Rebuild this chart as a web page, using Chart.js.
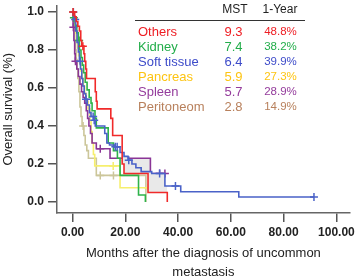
<!DOCTYPE html>
<html>
<head>
<meta charset="utf-8">
<script src="https://cdn.jsdelivr.net/npm/chart.js@4"></script>
<style>
html, body { margin: 0; padding: 0; background: #fff; }
</style>
</head>
<body>
<canvas id="myChart" width="358" height="277"></canvas>
<script>
// table on the right
var groupNames = ['Others', 'Kidney', 'Soft tissue', 'Pancreas', 'Spleen', 'Peritoneom'];
var mstValues = ['9.3', '7.4', '6.4', '5.9', '5.7', '2.8'];
var oneYearValues = ['48.8%', '38.2%', '39.9%', '27.3%', '28.9%', '14.9%'];
var textColors = ['#ee1d23', '#22ad4a', '#3d4bc9', '#fdc412', '#943c9c', '#b8805c'];
var lineColors = ['#f02a2a', '#2eb34a', '#4a62c8', '#f6ef6e', '#8a3596', '#ccc69a'];

// Kaplan-Meier steps (months, survival after the drop)
var othersMonths = [0.8, 1.4, 2.0, 2.6, 3.1, 3.5, 4.3, 4.6, 5.0, 5.3, 8.6, 9.0, 9.3, 14.5, 15.2, 18.8, 19.5, 28.6, 35.9];
var othersSurv = [0.975, 0.95, 0.925, 0.90, 0.85, 0.82, 0.78, 0.74, 0.70, 0.65, 0.58, 0.53, 0.49, 0.44, 0.35, 0.20, 0.15, 0.05, 0];
var othersCensored = [0.2, 3.9];

var kidneyMonths = [0.3, 1.0, 1.6, 2.2, 2.6, 3.2, 3.7, 4.2, 4.8, 5.5, 6.3, 7.0, 7.4, 8.5, 9.0, 13.5, 15.5, 17.0, 18.0, 25.0, 27.6];
var kidneySurv = [0.97, 0.93, 0.89, 0.85, 0.80, 0.76, 0.72, 0.68, 0.63, 0.59, 0.55, 0.52, 0.48, 0.44, 0.39, 0.31, 0.27, 0.23, 0.14, 0.037, 0];
var kidneyCensored = [0.5, 2.5];

var softMonths = [0.5, 1.2, 1.7, 2.2, 2.6, 3.0, 3.5, 3.9, 4.4, 5.0, 5.6, 6.4, 7.0, 8.0, 8.6, 12.2, 13.0, 14.0, 16.0, 18.0, 19.5, 21.0, 22.5, 24.0, 26.0, 30.0, 35.0, 41.0, 63.0];
var softSurv = [0.96, 0.90, 0.84, 0.79, 0.74, 0.70, 0.65, 0.61, 0.57, 0.54, 0.51, 0.47, 0.45, 0.43, 0.40, 0.36, 0.31, 0.30, 0.29, 0.26, 0.24, 0.22, 0.20, 0.18, 0.16, 0.15, 0.084, 0.054, 0.026];
var softCensored = [0.3, 1.0, 2.9, 5.1, 7.8, 8.2, 16.2, 16.9, 21.3, 33.0, 39.0, 91.5];

var pancreasMonths = [0.3, 0.7, 1.1, 1.5, 1.9, 2.3, 2.7, 3.1, 3.6, 4.1, 4.6, 5.2, 5.9, 6.6, 7.0, 7.4, 7.9, 8.4, 18.0];
var pancreasSurv = [0.96, 0.93, 0.89, 0.85, 0.81, 0.77, 0.73, 0.69, 0.65, 0.61, 0.57, 0.53, 0.49, 0.43, 0.37, 0.31, 0.25, 0.19, 0.075];
var pancreasCensored = [0.2, 15.4, 28.7];

var spleenMonths = [0.2, 0.5, 0.8, 1.0, 1.6, 2.2, 2.8, 3.4, 4.0, 4.6, 5.2, 5.7, 6.2, 6.8, 7.4, 9.0, 14.2, 29.5];
var spleenSurv = [0.92, 0.85, 0.78, 0.74, 0.70, 0.66, 0.62, 0.58, 0.55, 0.52, 0.48, 0.44, 0.40, 0.36, 0.31, 0.28, 0.23, 0.15];
var spleenCensored = [0.3, 1.1, 10.5, 33.0, 35.0];

var peritoneumMonths = [0.2, 0.5, 0.8, 1.1, 1.4, 1.7, 2.0, 2.4, 2.8, 3.2, 3.6, 4.3, 4.8, 5.4, 6.0, 9.0, 27.8];
var peritoneumSurv = [0.95, 0.90, 0.85, 0.80, 0.75, 0.70, 0.65, 0.58, 0.50, 0.45, 0.40, 0.35, 0.30, 0.27, 0.23, 0.14, 0];
var peritoneumCensored = [4.0, 10.5, 15.5];

var xTickValues = [0, 20, 40, 60, 80, 100];
var yTickValues = [0, 0.2, 0.4, 0.6, 0.8, 1.0];

function stepPoints(months, surv, censored) {
  var all = [];
  months.forEach(function(m, i) { all.push({x: m, s: surv[i], ev: true}); });
  censored.forEach(function(c) { all.push({x: c, ev: false}); });
  all.sort(function(a, b) { return a.x - b.x; });
  var pts = [{x: 0, y: 1}];
  var cur = 1;
  all.forEach(function(p) {
    if (p.ev) cur = p.s;
    pts.push({x: p.x, y: cur});
  });
  return pts;
}

function censorPoints(months, surv, censored) {
  return censored.map(function(c) {
    var s = 1;
    months.forEach(function(m, i) { if (m <= c) s = surv[i]; });
    return {x: c, y: s};
  });
}

var groups = [
  [othersMonths, othersSurv, othersCensored],
  [softMonths, softSurv, softCensored],
  [kidneyMonths, kidneySurv, kidneyCensored],
  [spleenMonths, spleenSurv, spleenCensored],
  [pancreasMonths, pancreasSurv, pancreasCensored],
  [peritoneumMonths, peritoneumSurv, peritoneumCensored]
];
var groupIdx = [0, 2, 1, 4, 3, 5];

var datasets = [];
groups.forEach(function(g, k) {
  var col = lineColors[groupIdx[k]];
  datasets.push({
    label: groupNames[groupIdx[k]] + ' censored',
    data: censorPoints(g[0], g[1], g[2]),
    showLine: false,
    pointStyle: 'cross',
    pointRadius: 4,
    pointBorderWidth: 1.5,
    borderColor: col,
    backgroundColor: col
  });
  datasets.push({
    label: groupNames[groupIdx[k]],
    data: stepPoints(g[0], g[1], g[2]),
    stepped: 'before',
    borderColor: col,
    borderWidth: 1.6,
    pointRadius: 0,
    fill: false
  });
});
// light grey where the spleen and soft tissue curves sit above "others"
datasets[7].fill = { target: 1, above: '#e9e9e9', below: 'rgba(0,0,0,0)' };
datasets[3].fill = { target: 1, above: '#e9e9e9', below: 'rgba(0,0,0,0)' };

var tablePlugin = {
  id: 'mstTable',
  afterDraw: function(chart) {
    var ctx = chart.ctx;
    ctx.save();
    ctx.textBaseline = 'middle';
    ctx.font = '12px "Liberation Sans", Arial, sans-serif';
    ctx.fillStyle = '#222';
    ctx.textAlign = 'center';
    ctx.fillText('MST', 235, 10);
    ctx.fillText('1-Year', 280, 10);
    ctx.strokeStyle = '#333';
    ctx.lineWidth = 1;
    ctx.beginPath();
    ctx.moveTo(135, 20.5);
    ctx.lineTo(305, 20.5);
    ctx.stroke();
    groupNames.forEach(function(name, i) {
      var y = 32 + i * 15;
      ctx.fillStyle = textColors[i];
      ctx.font = '13px "Liberation Sans", Arial, sans-serif';
      ctx.textAlign = 'left';
      ctx.fillText(name, 138, y);
      ctx.textAlign = 'center';
      ctx.fillText(mstValues[i], 233.5, y);
      ctx.font = '11.5px "Liberation Sans", Arial, sans-serif';
      ctx.fillText(oneYearValues[i], 280.5, y);
    });
    ctx.restore();
  }
};

var ctx = document.getElementById('myChart').getContext('2d');
var chart = new Chart(ctx, {
  type: 'line',
  data: { datasets: datasets },
  plugins: [tablePlugin],
  options: {
    responsive: false,
    animation: false,
    layout: { padding: 0 },
    plugins: { legend: { display: false }, tooltip: { enabled: false } },
    scales: {
      x: {
        type: 'linear',
        min: -5.9,
        max: 105.1,
        afterFit: function(scale) { scale.height = 64; },
        afterBuildTicks: function(scale) { scale.ticks = xTickValues.map(function(v) { return {value: v}; }); },
        ticks: {
          padding: 3,
          color: '#222',
          font: { family: '"Liberation Sans", Arial, sans-serif', size: 12, weight: 'bold' },
          callback: function(v) { return v.toFixed(2); }
        },
        grid: { drawOnChartArea: false, drawTicks: true, tickLength: 9, color: '#555', lineWidth: 1.5 },
        border: { display: true, color: '#666', width: 1.5 },
        title: {
          display: true,
          text: ['Months after the diagnosis of uncommon', 'metastasis'],
          color: '#222',
          font: { family: '"Liberation Sans", Arial, sans-serif', size: 13, lineHeight: 19 / 13 },
          padding: { top: 0, bottom: -4.5 }
        }
      },
      y: {
        min: -0.058,
        max: 1.034,
        afterFit: function(scale) { scale.width = 57; },
        afterBuildTicks: function(scale) { scale.ticks = yTickValues.map(function(v) { return {value: v}; }); },
        ticks: {
          padding: 4,
          color: '#222',
          font: { family: '"Liberation Sans", Arial, sans-serif', size: 12, weight: 'bold', lineHeight: 0.1 },
          callback: function(v) { return v.toFixed(1); }
        },
        grid: { drawOnChartArea: false, drawTicks: true, tickLength: 9, color: '#555', lineWidth: 1.5 },
        border: { display: true, color: '#666', width: 1.5 },
        title: {
          display: true,
          text: 'Overall survival (%)',
          color: '#222',
          font: { family: '"Liberation Sans", Arial, sans-serif', size: 13 },
          padding: { top: 1, bottom: 0 }
        }
      }
    }
  }
});
</script>
</body>
</html>
